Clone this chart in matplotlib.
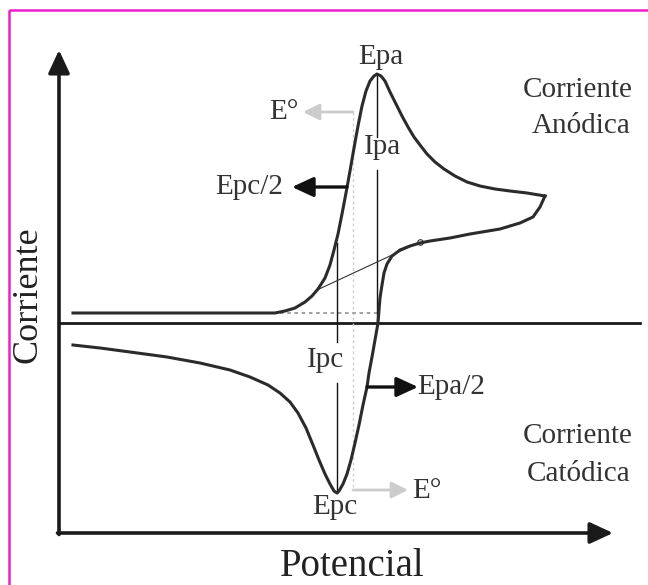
import numpy as np
import matplotlib.pyplot as plt
from matplotlib.patches import Rectangle

# cyclic voltammogram sketch, coordinates in image units (y grows downward)
# forward (anodic) sweep: baseline -> oxidation peak -> switching potential
anod_x = [73, 150, 275, 285, 295, 305, 312, 318, 325, 330, 334, 338, 342, 346,
          350, 354, 358, 362, 366, 370, 374, 377, 381, 385, 390, 396, 402, 408,
          414, 420, 427, 435, 444, 455, 467, 480, 495, 510, 527, 545]
anod_y = [313, 313, 313, 311, 308, 302, 296, 289, 278, 265, 250, 234, 214, 193,
          171, 148, 126, 106, 91, 81, 76, 74, 76, 81, 92, 104, 116, 127,
          137, 145, 154, 162, 169, 176, 182, 186, 189, 191, 193, 196]

# reverse (cathodic) sweep: switching potential -> reduction peak -> start
cat_x = [545, 540, 533, 520, 500, 470, 450, 430, 420, 410, 400, 392, 387, 384,
         382, 380, 379, 378, 375, 372, 369, 367, 363, 359, 355, 351, 347, 343,
         339, 337, 334, 330, 325, 319, 313, 306, 298, 290, 280, 268, 250, 230,
         200, 167, 130, 100, 73]
cat_y = [196, 207, 217, 223, 229, 234, 238, 241, 243, 246, 250, 256, 264, 273,
         285, 298, 310, 323, 340, 357, 373, 387, 405, 425, 443, 460, 474, 484,
         491, 493, 491, 484, 474, 460, 445, 428, 413, 402, 393, 385, 377, 370,
         363, 357, 352, 348, 345]

# characteristic points
epa = (377, 74)       # anodic peak
epc = (337, 493)      # cathodic peak
e0_x = 353            # formal potential
epc_half = (347, 187)
epa_half = (367, 387)
base_start = (317, 290)
base_end = (420, 242)
zero_y = 323
origin = (59, 533)

INK = '#2b2b2b'
SERIF = ['Liberation Serif', 'DejaVu Serif']

fig = plt.figure(figsize=(6.48, 5.85), dpi=100)
ax = fig.add_axes([0, 0, 1, 1])
ax.set_xlim(0, 648)
ax.set_ylim(585, 0)
ax.axis('off')

# frame
ax.add_patch(Rectangle((9, 10), 700, 700, fill=False, ec='#ee1ecc', lw=1.8))

# axes with arrow heads
arrow_kw = dict(arrowstyle='-|>,head_length=14,head_width=6.5', color='#1a1a1a',
                lw=2.6, shrinkA=0, shrinkB=0, mutation_scale=1)
ax.annotate('', xy=(origin[0], 50), xytext=(origin[0], origin[1] + 1.5), arrowprops=arrow_kw)
ax.annotate('', xy=(613, origin[1]), xytext=(origin[0] - 1.5, origin[1]), arrowprops=arrow_kw)
ax.plot([origin[0], 640], [zero_y, zero_y], color='#1a1a1a', lw=2.0)

# guide lines
ax.plot([e0_x, e0_x], [112, 490], color='#cfcfcf', lw=1.0, ls=(0, (2, 2)))
ax.plot([280, 378], [313, 313], color='#9a9a9a', lw=1.3, ls=(0, (2, 2)))
ax.plot([epa[0], epa[0]], [epa[1], 137], color='#111111', lw=1.0)
ax.plot([epa[0], epa[0]], [170, zero_y], color='#111111', lw=1.0)
ax.plot([epc[0], epc[0]], [243, 342], color='#111111', lw=1.0)
ax.plot([epc[0], epc[0]], [383, epc[1]], color='#111111', lw=1.0)
ax.plot([base_start[0], base_end[0]], [base_start[1], base_end[1]], color='#333333', lw=0.8)
ax.plot([base_end[0]], [base_end[1]], 'o', ms=4, mfc='white', mec='#333333', mew=0.8)

# voltammogram
ax.plot(anod_x, anod_y, color=INK, lw=2.2, solid_joinstyle='round')
ax.plot(cat_x, cat_y, color=INK, lw=2.2, solid_joinstyle='round')

# half-peak and formal potential arrows
black_arrow = dict(arrowstyle='-|>,head_length=13,head_width=6', color='#111111',
                   lw=2.4, shrinkA=0, shrinkB=0, mutation_scale=1)
grey_arrow = dict(arrowstyle='-|>,head_length=10,head_width=5', color='#cccccc',
                  lw=2.0, shrinkA=0, shrinkB=0, mutation_scale=1)
ax.annotate('', xy=(292, epc_half[1]), xytext=epc_half, arrowprops=black_arrow)
ax.annotate('', xy=(418, epa_half[1]), xytext=epa_half, arrowprops=black_arrow)
ax.annotate('', xy=(303, 112), xytext=(e0_x, 112), arrowprops=grey_arrow)
ax.annotate('', xy=(408, 490), xytext=(e0_x, 490), arrowprops=grey_arrow)

# labels
lbl = dict(family=SERIF, fontsize=21, color='#333333', ha='center', va='center')
ax.text(381, 57, 'Epa', **lbl)
ax.text(383, 147, 'Ipa', **lbl)
ax.text(326, 360, 'Ipc', **lbl)
ax.text(335, 507, 'Epc', **lbl)
ax.text(284, 112, 'E°', **lbl)
ax.text(427, 491, 'E°', **lbl)
ax.text(249, 187, 'Epc/2', **lbl)
ax.text(451, 387, 'Epa/2', **lbl)

side = dict(family=SERIF, fontsize=21, color='#333333', ha='right', va='baseline')
ax.text(633, 97, 'Corriente', **side)
ax.text(631, 133, 'Anódica', **side)
ax.text(633, 443, 'Corriente', **side)
ax.text(631, 481, 'Catódica', **side)

ax.text(352, 566, 'Potencial', family=SERIF, fontsize=28, color='#222222',
        ha='center', va='center')
ax.text(28, 295, 'Corriente', family=SERIF, fontsize=26, color='#222222',
        ha='center', va='center', rotation=90)

fig.savefig('out.png', dpi=100)
